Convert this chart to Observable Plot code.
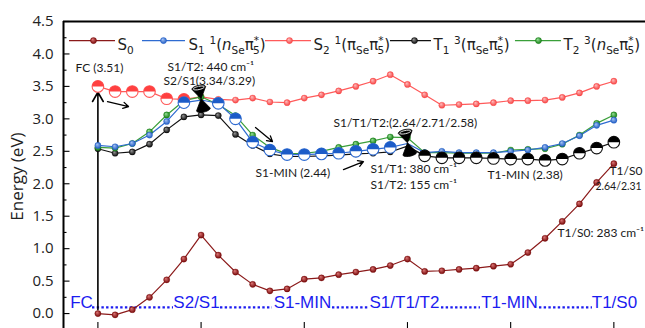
<!DOCTYPE html>
<html><head><meta charset="utf-8">
<script src="https://cdn.jsdelivr.net/npm/d3@7"></script>
<script src="https://cdn.jsdelivr.net/npm/@observablehq/plot@0.6"></script>
<style>
html,body{margin:0;padding:0;background:#fff;}
#chart svg{display:block;}
</style></head><body>
<svg width="0" height="0" style="position:absolute">
<defs>
<radialGradient id="gS0" cx="50%" cy="50%" r="55%" fx="35%" fy="30%"><stop offset="0%" stop-color="#e07a7a"/><stop offset="100%" stop-color="#6e0000"/></radialGradient>
<radialGradient id="gS1" cx="50%" cy="50%" r="55%" fx="35%" fy="30%"><stop offset="0%" stop-color="#a9c6f5"/><stop offset="100%" stop-color="#1654c0"/></radialGradient>
<radialGradient id="gS2" cx="50%" cy="50%" r="55%" fx="35%" fy="30%"><stop offset="0%" stop-color="#ffc0c0"/><stop offset="100%" stop-color="#f53a3a"/></radialGradient>
<radialGradient id="gT1" cx="50%" cy="50%" r="55%" fx="35%" fy="30%"><stop offset="0%" stop-color="#9a9a9a"/><stop offset="100%" stop-color="#000"/></radialGradient>
<radialGradient id="gT2" cx="50%" cy="50%" r="55%" fx="35%" fy="30%"><stop offset="0%" stop-color="#9be39b"/><stop offset="100%" stop-color="#0a760a"/></radialGradient>
</defs></svg>
<div id="chart"></div>
<script>
// ---------- data ----------
const steps = [0,1,2,3,4,5,6,7,8,9,10,11,12,13,14,15,16,17,18,19,20,21,22,23,24,25,26,27,28,29,30];
const S0 = [0.00,-0.02,0.06,0.25,0.52,0.84,1.21,0.90,0.64,0.45,0.35,0.38,0.53,0.55,0.60,0.64,0.68,0.74,0.84,0.65,0.66,0.68,0.70,0.73,0.76,0.94,1.16,1.42,1.69,2.02,2.31];
const S1 = [2.59,2.57,2.62,2.75,2.96,3.25,3.29,3.24,3.00,2.64,2.52,2.45,2.45,2.46,2.47,2.50,2.53,2.56,2.62,2.48,2.50,2.48,2.48,2.48,2.50,2.52,2.56,2.62,2.74,2.90,2.98];
const S2 = [3.50,3.42,3.42,3.42,3.31,3.30,3.34,3.30,3.29,3.32,3.26,3.25,3.32,3.37,3.43,3.50,3.58,3.68,3.53,3.37,3.21,3.22,3.23,3.25,3.28,3.28,3.29,3.33,3.40,3.50,3.58];
const T1 = [2.54,2.47,2.49,2.61,2.83,3.03,3.06,3.05,2.76,2.59,2.46,2.42,2.42,2.43,2.44,2.46,2.47,2.49,2.58,2.43,2.40,2.40,2.40,2.39,2.38,2.38,2.36,2.38,2.47,2.55,2.64];
const T2 = [2.56,2.55,2.62,2.80,3.06,3.28,3.34,3.22,3.05,2.75,2.56,2.46,2.47,2.50,2.56,2.61,2.66,2.72,2.71,2.48,2.48,2.47,2.47,2.47,2.52,2.53,2.54,2.61,2.75,2.93,3.06];
const pathLabels = ["FC","S2/S1","S1-MIN","S1/T1/T2","T1-MIN","T1/S0"];
const pathTicks = [0,6,12,18,24,30];
const yTicks = [0,0.5,1,1.5,2,2.5,3,3.5,4,4.5];
const yTickLabels = ["0.0","0.5","1.0","1.5","2.0","2.5","3.0","3.5","4.0","4.5"];
const legendKeys = ["S0","S1","S2","T1","T2"];
const coneSteps = [6,18];
const coneEnergies = [3.31,2.63];
const annotations = ["FC (3.51)","S1/T2: 440 cm\u207B\u00B9","S2/S1(3.34/3.29)","S1/T1/T2:(2.64/2.71/2.58)","S1-MIN (2.44)","S1/T1: 380 cm\u207B\u00B9","S1/T2: 155 cm\u207B\u00B9","T1-MIN (2.38)","T1/S0","2.64/2.31","T1/S0: 283 cm\u207B\u00B9"];

// ---------- layout helpers (pixel -> data) ----------
const X = px => (px - 97.4) / 17.2;
const Y = py => (313 - py) / 64.9;

const series = [
  {key:"S0", v:S0, line:"#8b1a1a", base:"#7a0000", grad:"url(#gS0)", big:[], skip:[]},
  {key:"S2", v:S2, line:"#ff5a5a", base:"#ff4040", grad:"url(#gS2)", big:[0,1,2,3,4,5], skip:[]},
  {key:"T1", v:T1, line:"#111111", base:"#000000", grad:"url(#gT1)", big:[19,20,21,22,23,24,25,26,27,28,29,30], skip:[18]},
  {key:"T2", v:T2, line:"#3a9f3a", base:"#0f7f0f", grad:"url(#gT2)", big:[], skip:[]},
  {key:"S1", v:S1, line:"#2e6bd1", base:"#1c5cc8", grad:"url(#gS1)", big:[5,7,8,9,10,11,12,13,14,15,16,17], skip:[6,18]}
];
const rowsOf = s => s.v.map((y,i)=>({x:steps[i], y}));

const halfTop = {draw(ctx, size){ const r=Math.sqrt(size/Math.PI); ctx.moveTo(r,0); ctx.arc(0,0,r,0,Math.PI,true); ctx.closePath(); }};
function rotPts(pts, deg){ const a=deg*Math.PI/180, c=Math.cos(a), s=Math.sin(a); return pts.map(([x,y])=>[x*c-y*s, x*s+y*c]); }
function poly(ctx, pts){ ctx.moveTo(pts[0][0],pts[0][1]); for(let i=1;i<pts.length;i++) ctx.lineTo(pts[i][0],pts[i][1]); ctx.closePath(); }
function ellipsePts(cx,cy,rx,ry,n=20){ const p=[]; for(let i=0;i<n;i++){const t=2*Math.PI*i/n; p.push([cx+rx*Math.cos(t), cy+ry*Math.sin(t)]);} return p; }
const TILT = -12;
const hourglass = {draw(ctx,size){ const k=Math.sqrt(size)/10, w=7*k, h=11*k, e=2.6*k;
  const top=[]; for(let i=0;i<=12;i++){const t=Math.PI*i/12; top.push([w*Math.cos(t), -h - e*Math.sin(t)]);} top.push([0,0]);
  const bot=[]; for(let i=0;i<=12;i++){const t=Math.PI*i/12; bot.push([w*Math.cos(t), h + e*Math.sin(t)]);} bot.push([0,0]);
  poly(ctx, rotPts(top,TILT)); poly(ctx, rotPts(bot.reverse(),TILT)); }};
const rimTop = {draw(ctx,size){ const k=Math.sqrt(size)/10; poly(ctx, rotPts(ellipsePts(0,-11*k,5.6*k,1.6*k),TILT)); }};

const lineMarks = series.map(s => Plot.line(rowsOf(s), {x:"x", y:"y", stroke:s.line, strokeWidth:1.2}));
const smallDots = series.map(s => Plot.dot(rowsOf(s).filter((d,i)=>!s.big.includes(i) && !s.skip.includes(i)), {x:"x", y:"y", r:3.1, fill:s.grad, stroke:s.base, strokeWidth:0.3}));
const bigDots = series.filter(s=>s.big.length).flatMap(s => {
  const rows = rowsOf(s).filter((d,i)=>s.big.includes(i));
  return [
    Plot.dot(rows, {x:"x", y:"y", r:5.8, fill:"white", stroke:s.line, strokeWidth:1.1}),
    Plot.dot(rows, {x:"x", y:"y", r:5.8, symbol:halfTop, fill:s.base})
  ];
});

const coneRows = coneSteps.map((x,i)=>({x, y:coneEnergies[i]}));

// annotation placement (layout)
const annPos = [[75,68],[167,67],[163,81],[333,123],[255,173],[370,169],[370,185],[487,175],[609,171],[595,186],[557,233]];
const annSize = [12,12,12,12,12,12,12,12,12,11,12];
const annRows = annotations.map((t,i)=>({t, x:X(annPos[i][0]), y:Y(annPos[i][1]), fs:annSize[i]}));
const arrowRows = [
  {x1:X(107), y1:Y(101), x2:X(128), y2:Y(106)},
  {x1:X(255), y1:Y(127), x2:X(272), y2:Y(141)},
  {x1:X(343), y1:Y(169), x2:X(363), y2:Y(161)}
];
const labelCenters = [81,196,302,404,509,614];
const pathRows = pathLabels.map((t,i)=>({t, x:X(labelCenters[i])}));
const dotSegs = [[92,173],[220,272],[332,368],[441,480],[539,592]].map(([a,b])=>({x1:X(a), x2:X(b)}));

const legendLayout = {S0:[69,115,93,117], S1:[142,185,163,188], S2:[265,311,289,313], T1:[390,431,414,433], T2:[515,561,538,563]};
const legendRows = legendKeys.map(k => { const s=series.find(d=>d.key===k); const L=legendLayout[k];
  return {k, x1:X(L[0]), x2:X(L[1]), xd:X(L[2]), xt:X(L[3]), line:s.line, base:s.base, grad:s.grad}; });
const yLeg = Y(40);

const yMinor = yTicks.slice(0,-1).map(v=>v+0.25);

const plot = Plot.plot({
  width:645, height:328,
  marginLeft:63, marginRight:0, marginTop:21, marginBottom:0,
  x:{domain:[-2,31.84], axis:null},
  y:{domain:[-0.23,4.5], axis:null},
  style:{fontFamily:"Open Sans", background:"white"},
  marks:[
    // frame
    Plot.ruleY([4.5], {stroke:"#000", strokeWidth:2}),
    Plot.ruleX([-2], {stroke:"#000", strokeWidth:2}),
    Plot.ruleY(yTicks, {x1:-2, x2:X(69.5), stroke:"#000", strokeWidth:1.1}),
    Plot.ruleY(yMinor, {x1:-2, x2:X(66.5), stroke:"#000", strokeWidth:1.1}),
    Plot.ruleX(pathTicks, {y1:-0.23, y2:Y(322), stroke:"#000", strokeWidth:1.1}),
    Plot.text(yTicks, {x:X(53), y:d=>d, text:yTickLabels, textAnchor:"end", fontSize:15, fill:"#222"}),
    Plot.text(["Energy (eV)"], {x:X(17), y:Y(176), text:d=>d, rotate:-90, fontSize:17, fill:"#222"}),
    // path labels
    Plot.ruleY(dotSegs, {y:Y(306.8), x1:"x1", x2:"x2", stroke:"#1c1cf0", strokeWidth:2.4, strokeDasharray:"2.4,2.3"}),
    Plot.text(pathRows, {x:"x", y:Y(301.5), text:"t", fontSize:17, fontFamily:"Liberation Sans", fill:"#1c1cf0"}),
    // vertical excitation arrow
    Plot.arrow([{x1:0, y1:0.06, x2:0, y2:3.41}], {x1:"x1", y1:"y1", x2:"x2", y2:"y2", stroke:"#000", strokeWidth:1.6, headLength:10}),
    ...lineMarks,
    ...smallDots,
    ...bigDots,
    Plot.dot(coneRows, {x:"x", y:"y", r:5.64, symbol:hourglass, fill:"#000", stroke:"#000", strokeWidth:0.8}),
    Plot.dot(coneRows, {x:"x", y:"y", r:5.64, symbol:rimTop, fill:"none", stroke:"#fff", strokeWidth:0.9}),
    Plot.arrow(arrowRows, {x1:"x1", y1:"y1", x2:"x2", y2:"y2", stroke:"#000", strokeWidth:1.3, headLength:7}),
    Plot.text(annRows.filter(d=>d.fs===12), {x:"x", y:"y", text:"t", textAnchor:"start", fontSize:12, fontFamily:"Lato", fill:"#1a1a1a"}),
    Plot.text(annRows.filter(d=>d.fs===11), {x:"x", y:"y", text:"t", textAnchor:"start", fontSize:10.5, fontFamily:"Lato", fill:"#1a1a1a"}),
    // legend
    Plot.ruleY(legendRows, {y:yLeg, x1:"x1", x2:"x2", stroke:"line", strokeWidth:1.2}),
    ...legendRows.map(r => Plot.dot([r], {x:"xd", y:yLeg, r:3.1, fill:r.grad, stroke:r.base, strokeWidth:0.3})),
    Plot.text(legendRows, {x:"xt", y:yLeg, text:"k", textAnchor:"start", fontSize:15, fontFamily:"DejaVu Sans", fill:"#222"})
  ]
});
document.getElementById("chart").appendChild(plot);

// rich legend text (sub/superscripts)
const rich = {
  S0:[["S"],["0","sub"]],
  S1:[["S"],["1","sub"],["\u00A0"],["1","sup"],["("],["n","it"],["Se","sub"],["\u03C0"],["*","sup"],["5","sub2"],[")"]],
  S2:[["S"],["2","sub"],["\u00A0"],["1","sup"],["("],["\u03C0"],["Se","sub"],["\u03C0"],["*","sup"],["5","sub2"],[")"]],
  T1:[["T"],["1","sub"],["\u00A0"],["3","sup"],["("],["\u03C0"],["Se","sub"],["\u03C0"],["*","sup"],["5","sub2"],[")"]],
  T2:[["T"],["2","sub"],["\u00A0"],["3","sup"],["("],["n","it"],["Se","sub"],["\u03C0"],["*","sup"],["5","sub2"],[")"]]
};
plot.querySelectorAll("text").forEach(el => {
  const key = el.textContent.trim(); const segs = rich[key]; if(!segs) return;
  const t = d3.select(el); t.text(null); t.attr("dy", null);
  let cur = 0, first = true;
  for (const [s, kind] of segs) {
    const target = (kind==="sub"||kind==="sub2") ? 4 : kind==="sup" ? -6 : 0;
    const ts = t.append("tspan").text(s);
    const dy = target - cur + (first ? 5 : 0); first = false; cur = target;
    if (dy) ts.attr("dy", dy);
    if (kind && kind!=="it") ts.attr("font-size", 10.5);
    if (kind==="it") ts.attr("font-style","italic");
    if (kind==="sub2") ts.attr("dx", -6);
  }
});
</script>
</body></html>
